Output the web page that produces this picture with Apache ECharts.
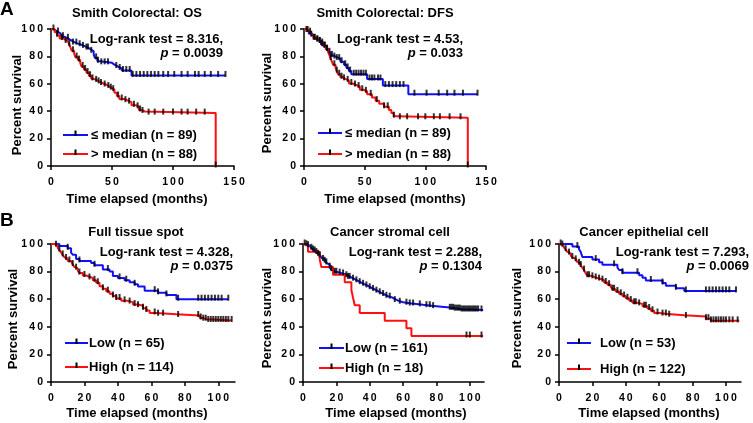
<!DOCTYPE html>
<html><head><meta charset="utf-8">
<script src="https://cdn.jsdelivr.net/npm/echarts@6/dist/echarts.min.js"></script>
<style>html,body{margin:0;padding:0;background:#fff}#c{width:753px;height:423px}</style>
</head><body><div id="c"></div>
<script>
// ---------- DATA (Kaplan-Meier steps: [time, survival %]) ----------
const osLowSteps = [[0,100],[2,98.9],[4,97.8],[6,96.6],[8,94.4],[11,93.2],[14,92],[16,90.9],[18,89.7],[21,88.5],[25,87.3],[28,86.1],[31,84.9],[33,83.7],[35,81.3],[36,78.9],[38,76.5],[40,75.3],[50,74],[52,72.6],[55,71.2],[58,69.7],[66,66.1],[143,66.1]];
const osLowCensor = [5.7,9.8,13.9,18,20.8,23.5,26.2,29,30.3,33,37,38.5,41.2,44,46.7,53.5,56.3,59,61.7,64.5,67,70,73,76,79,82,85,88,92,96,101,107,112,118,121,126,131,137,143];
const osHighSteps = [[0,100],[3,97.7],[5,95.4],[7,93.1],[10,92],[12,90.9],[14,89.8],[15,88.6],[16,86.4],[17,84.1],[19,81.8],[20,79.5],[22,77.3],[24,75],[25,72.7],[27,70.5],[29,68.2],[31,65.9],[33,63.6],[35,62.5],[38,61.4],[40,60.2],[43,59.1],[46,58],[48,56.8],[50,55.7],[52,53.4],[54,51.1],[56,48.9],[60,47.7],[63,46.6],[66,44.3],[70,43.2],[72,40.9],[74,39.8],[77,38.6],[135,0]];
const osHighCensor = [2,5,9,12,15,18,21,23,26,28,30,32,34,37,39,41,44,47,49,51,55,58,61,64,68,71,73,75,80,85,92,100,107,112,119,126,135];

const dfsLowSteps = [[0,100],[2,98.9],[4,96.6],[6,95.5],[8,93.2],[10,92],[12,90.9],[14,88.6],[16,87.5],[18,85.2],[20,83],[22,80.7],[24,79.5],[27,78.4],[30,76.1],[33,73.9],[35,71.6],[37,69.3],[39,67],[52,63.5],[65,58.7],[86,52.4],[143,52.4]];
const dfsLowCensor = [3,6,9,11,13,15,17,19,21,23,25,27,29,31,34,36,38,41,43,45,47,49,51,54,56,58,61,63,67,70,73,76,79,82,91,101,111,118,124,131,143];
const dfsHighSteps = [[0,100],[2,98.9],[4,97.7],[6,95.5],[8,93.2],[10,92],[12,90.9],[14,89.8],[16,87.5],[18,85.2],[20,83],[21,80.7],[22,78.4],[23,76.1],[24,73.9],[26,71.6],[27,69.3],[28,67],[30,64.8],[32,63.6],[34,62.5],[37,60.2],[40,59.1],[43,58],[46,55.7],[49,54.5],[52,52.3],[56,50],[59,47.7],[62,45.5],[66,43.2],[70,40.9],[72,38.6],[74,36.4],[76,35.2],[135,0]];
const dfsHighCensor = [2,5,8,11,13,15,17,19,22,25,27,29,31,33,36,39,42,45,48,51,55,60,66,69,74,79,85,94,100,107,112,120,129,135];

const fullLowSteps = [[0,100],[5,98.5],[10,96.9],[12,93.8],[13,92.3],[15,89.2],[17,87.7],[24,86.2],[26,84.6],[31,81.5],[35,80],[37,76.9],[40,75.4],[44,73.8],[47,72.3],[50,70.8],[52,69.2],[56,66.2],[64,64.6],[69,63.1],[75,60],[106,60]];
const fullLowCensor = [10,17,26,34,41,45,50,62,64,69,76,88,90,92,94,96,98,100,102,106];
const fullHighSteps = [[0,100],[2,99.1],[4,97.4],[5,95.6],[6,93.9],[7,92.1],[8,90.4],[9,89.5],[10,87.7],[12,86.8],[13,85.1],[14,83.3],[15,82.5],[16,80.7],[17,78.9],[19,77.2],[21,76.3],[23,75.4],[25,73.7],[27,71.9],[29,69.3],[31,67.5],[33,65.8],[35,64],[37,62.3],[39,60.5],[42,58.8],[46,57.9],[49,56.1],[52,55.3],[55,53.5],[57,51.8],[59,50],[63,49.1],[75,48.2],[89,46.4],[91,45.5],[93,44.6],[108,44.6]];
const fullHighCensor = [3,5,7,9,11,13,15,17,20,23,26,28,31,34,37,39,41,44,47,50,52,55,57,62,64,67,76,88,89.5,91,92.5,94,95.5,97,98.5,100,101.5,103,104.5,106,108];

const stromaLowSteps = [[0,100],[2,99.4],[3,98.8],[4,97.5],[5,96.9],[6,95.7],[7,95],[8,93.8],[9,92.5],[10,91.3],[11,90],[12,88.8],[13,87.5],[14,86.3],[15,85],[16,83.2],[17,81.4],[18,80.1],[19,79.5],[21,78.9],[23,78.3],[25,77],[27,75.8],[29,74.5],[31,73.3],[33,72],[35,70.8],[37,69.6],[39,68.3],[41,67.1],[43,65.8],[45,64.6],[47,63.4],[49,62.1],[51,61.5],[53,60.2],[55,59],[57,57.8],[60,57.1],[64,56.5],[68,55.9],[72,55.3],[77,54.6],[83,54],[88,53.4],[91,52.8],[95,52.2],[108,52.2]];
const stromaLowCensor = [1,2,3,5,6,7,8,9,10,12,13,14,16,17,19,20,22,24,26,27,28,30,32,34,36,38,40,42,44,46,48,50,52,55,58,62,64,66,70,74,76,78,88,89,90,91,92,93,94,95,96,97,98,99,100,101,102,103,104,105,107];
const stromaHighSteps = [[0,100],[3,94.4],[10,88.9],[11,83.3],[18,77.8],[25,72.2],[29,66.7],[30,61.1],[31,55.6],[34,50],[49,44.4],[62,38.9],[65,33.3],[108,33.3]];
const stromaHighCensor = [98,100,107];

const epiLowSteps = [[0,100],[8,98.1],[12,96.2],[13,94.3],[14,90.6],[20,88.7],[24,86.8],[26,84.9],[35,83],[36,81.1],[38,79.2],[48,77.4],[50,75.5],[52,73.6],[62,71.7],[64,69.8],[70,67.9],[75,66],[106,66]];
const epiLowCensor = [11,22,33,38,47,55,62,70,76,88,90,92,94,96,98,100,102,106];
const epiHighSteps = [[0,100],[2,99.2],[3,97.5],[4,95.9],[5,94.3],[6,93.4],[7,91.8],[8,90.2],[9,89.3],[10,88.5],[11,86.9],[12,86],[13,84.4],[14,82.8],[15,81.1],[16,78.7],[17,77],[19,76.2],[21,75.4],[23,74.6],[25,73.8],[27,72.1],[29,70.5],[31,68.9],[32,67.2],[34,65.6],[36,63.9],[38,62.3],[40,60.7],[42,59],[44,57.4],[47,56.6],[50,54.9],[53,53.3],[55,51.6],[57,50],[60,49.2],[65,48.4],[75,47.5],[88,45.9],[91,44.3],[108,44.3]];
const epiHighCensor = [1,2,4,6,8,10,12,13,15,17,18,20,22,24,26,28,30,32,33,35,37,39,41,43,45,46,48,51,52,54,56,59,62,64,66,76,88,89.5,91,92.5,94,95.5,97,98.5,100,102,104,107];

const yTicks = [0,20,40,60,80,100];
const xTicksA = [0,50,100,150];
const xTicksB = [0,20,40,60,80,100];

const titles = ['Smith Colorectal: OS','Smith Colorectal: DFS','Full tissue spot','Cancer stromal cell','Cancer epithelial cell'];
const logRank = ['Log-rank test = 8.316,','Log-rank test = 4.53,','Log-rank test = 4.328,','Log-rank test = 2.288,','Log-rank test = 7.293,'];
const pValues = ['0.0039','0.033','0.0375','0.1304','0.0069'];
const lowNames = ['\u2264 median (n = 89)','\u2264 median (n = 89)','Low (n = 65)','Low (n = 161)','Low (n = 53)'];
const highNames = ['> median (n = 88)','> median (n = 88)','High (n = 114)','High (n = 18)','High (n = 122)'];

// ---------- LAYOUT ----------
const FONT = '"Liberation Sans", Arial, Helvetica, sans-serif';
const BLUE = '#1010ff', RED = '#ff1010';
const panels = [
  {grid:{left:51,top:29,width:183,height:137}, xmax:150, xt:xTicksA, low:[osLowSteps,osLowCensor], high:[osHighSteps,osHighCensor],
   title:[137,13], lr:[223,39,53], leg:[63,88,91,135,154], xt2:[137,199], yt:[17,105]},
  {grid:{left:304,top:29,width:182,height:137}, xmax:150, xt:xTicksA, low:[dfsLowSteps,dfsLowCensor], high:[dfsHighSteps,dfsHighCensor],
   title:[385,13], lr:[463,39,53], leg:[318,342,345,133,154], xt2:[395,199], yt:[267,103]},
  {grid:{left:51,top:244,width:184,height:138}, xmax:110, xt:xTicksB, low:[fullLowSteps,fullLowCensor], high:[fullHighSteps,fullHighCensor],
   title:[136,232], lr:[233,252,266], leg:[65,88,89,343,367], xt2:[137,413], yt:[13,319]},
  {grid:{left:303,top:244,width:181,height:138}, xmax:108.5, xt:xTicksB, low:[stromaLowSteps,stromaLowCensor], high:[stromaHighSteps,stromaHighCensor],
   title:[390,232], lr:[482,252,266], leg:[319,344,345,348,368], xt2:[396,413], yt:[267,318]},
  {grid:{left:559,top:244,width:182,height:138}, xmax:109, xt:xTicksB, low:[epiLowSteps,epiLowCensor], high:[epiHighSteps,epiHighCensor],
   title:[644,232], lr:[749,252,266], leg:[567,591,600,343,369], xt2:[649,413], yt:[517,318]}
];

function survAt(steps, t){ let y = steps[0][1]; for (const p of steps){ if (p[0] <= t) y = p[1]; else break; } return y; }
const spaced = v => String(v).split('').join('\u2009');

const grids=[], xAxes=[], yAxes=[], series=[], graphics=[];
const axLine = {show:true, lineStyle:{color:'#000', width:1.5}};
const axTick = {show:true, length:4, lineStyle:{color:'#000', width:1.5}};
const lab = {color:'#000', fontFamily:FONT, fontWeight:'bold', fontSize:10.5};

panels.forEach((p,i)=>{
  grids.push(p.grid);
  xAxes.push({gridIndex:i, type:'value', min:0, max:p.xmax, axisLine:axLine,
    axisTick:Object.assign({customValues:p.xt}, axTick),
    axisLabel:Object.assign({customValues:p.xt, margin:11, formatter:spaced}, lab),
    splitLine:{show:false}});
  yAxes.push({gridIndex:i, type:'value', min:0, max:100, interval:20, axisLine:axLine, axisTick:axTick,
    axisLabel:Object.assign({margin:8, formatter:spaced}, lab), splitLine:{show:false}});
  [[p.low, BLUE],[p.high, RED]].forEach(([d,col])=>{
    series.push({type:'line', xAxisIndex:i, yAxisIndex:i, step:'end', data:d[0], showSymbol:false, symbol:'none',
      lineStyle:{color:col, width:2}, itemStyle:{color:col}, animation:false, z:2, silent:true});
    series.push({type:'scatter', xAxisIndex:i, yAxisIndex:i, data:d[1].map(t=>[t, survAt(d[0], t)]),
      symbol:'rect', symbolSize:[2,6], symbolOffset:[0,-1.5], itemStyle:{color:'#000'}, animation:false, z:3, silent:true});
  });
  const tf = {fontFamily:FONT, fontWeight:'bold', fill:'#000'};
  graphics.push({type:'text', x:p.title[0], y:p.title[1], style:Object.assign({text:titles[i], fontSize:13, align:'center', verticalAlign:'middle'}, tf)});
  graphics.push({type:'text', x:p.lr[0], y:p.lr[1], style:Object.assign({text:logRank[i], fontSize:13, align:'right', verticalAlign:'middle'}, tf)});
  graphics.push({type:'text', x:p.lr[0], y:p.lr[2], style:Object.assign({text:'{it|p} = '+pValues[i], fontSize:13, align:'right', verticalAlign:'middle',
     rich:{it:{fontStyle:'italic', fontWeight:'bold', fontFamily:FONT, fontSize:13, fill:'#000'}}}, tf)});
  graphics.push({type:'text', x:p.xt2[0], y:p.xt2[1], style:Object.assign({text:'Time elapsed (months)', fontSize:13, align:'center', verticalAlign:'middle'}, tf)});
  graphics.push({type:'text', x:p.yt[0], y:p.yt[1], rotation:Math.PI/2, style:Object.assign({text:'Percent survival', fontSize:13, align:'center', verticalAlign:'middle'}, tf)});
  const [x1,x2,tx,y1,y2] = p.leg;
  [[y1,BLUE,lowNames[i]],[y2,RED,highNames[i]]].forEach(([yy,col,name])=>{
    graphics.push({type:'line', shape:{x1:x1,y1:yy,x2:x2,y2:yy}, style:{stroke:col, lineWidth:2}});
    graphics.push({type:'rect', shape:{x:(x1+x2)/2-1, y:yy-4.5, width:2, height:5.5}, style:{fill:'#000'}});
    graphics.push({type:'text', x:tx, y:yy, style:Object.assign({text:name, fontSize:13, align:'left', verticalAlign:'middle'}, tf)});
  });
});
graphics.push({type:'text', x:0, y:10, style:{text:'A', fontSize:19, fontWeight:'bold', fontFamily:FONT, fill:'#000', verticalAlign:'middle'}});
graphics.push({type:'text', x:0, y:221, style:{text:'B', fontSize:19, fontWeight:'bold', fontFamily:FONT, fill:'#000', verticalAlign:'middle'}});

const chart = echarts.init(document.getElementById('c'), null, {renderer:'canvas'});
chart.setOption({animation:false, backgroundColor:'#fff', grid:grids, xAxis:xAxes, yAxis:yAxes, series:series, graphic:graphics});
</script></body></html>
